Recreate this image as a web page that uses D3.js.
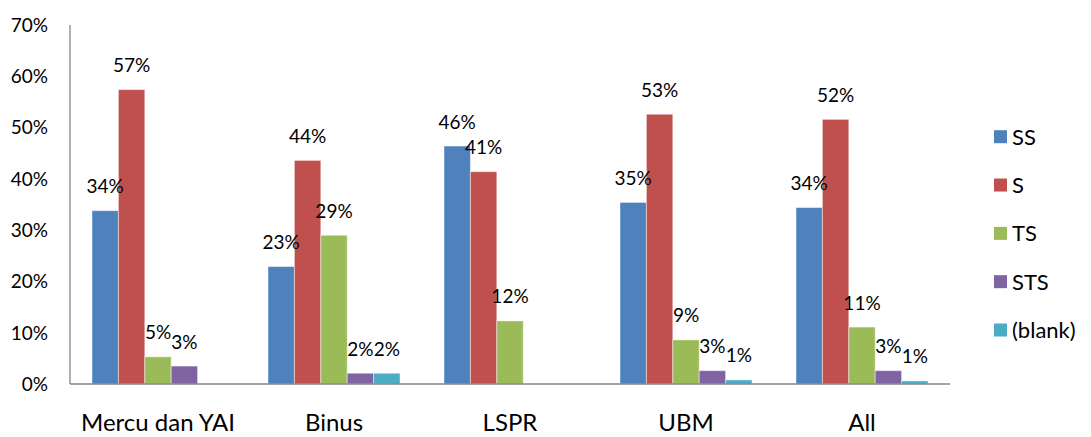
<!DOCTYPE html>
<html>
<head>
<meta charset="utf-8">
<script src="https://cdn.jsdelivr.net/npm/d3@7"></script>
<style>
  html, body { margin: 0; padding: 0; background: #fff; }
  svg { display: block; }
  text { font-family: Lato, "Open Sans", sans-serif; fill: #000; }
</style>
</head>
<body>
<svg id="chart" width="1091" height="437"></svg>
<script>
const categories = ["Mercu dan YAI", "Binus", "LSPR", "UBM", "All"];
const seriesNames = ["SS", "S", "TS", "STS", "(blank)"];
const seriesColors = ["#4F81BD", "#C0504D", "#9BBB59", "#8064A2", "#4BACC6"];
// values in percent, per series, ordered as categories
const valuesSS    = [33.8, 22.9, 46.4, 35.4, 34.4];
const valuesS     = [57.4, 43.6, 41.4, 52.6, 51.6];
const valuesTS    = [5.3, 29.0, 12.3, 8.6, 11.1];
const valuesSTS   = [3.5, 2.1, null, 2.6, 2.6];
const valuesBlank = [null, 2.1, null, 0.8, 0.6];
const labelsSS    = ["34%", "23%", "46%", "35%", "34%"];
const labelsS     = ["57%", "44%", "41%", "53%", "52%"];
const labelsTS    = ["5%", "29%", "12%", "9%", "11%"];
const labelsSTS   = ["3%", "2%", null, "3%", "3%"];
const labelsBlank = [null, "2%", null, "1%", "1%"];
const yTicks = [0, 10, 20, 30, 40, 50, 60, 70];

const seriesValues = [valuesSS, valuesS, valuesTS, valuesSTS, valuesBlank];
const seriesLabels = [labelsSS, labelsS, labelsTS, labelsSTS, labelsBlank];

const svg = d3.select("#chart");
const plot = { left: 70, right: 950, top: 25, bottom: 384 };

const x0 = d3.scaleBand().domain(categories).range([plot.left, plot.right]).paddingInner(0).paddingOuter(0);
const groupPad = 22;
const x1 = d3.scaleBand().domain(seriesNames)
  .range([groupPad, x0.bandwidth() - groupPad]).padding(0);
const y = d3.scaleLinear().domain([0, 70]).range([plot.bottom, plot.top]);

// y-axis tick labels
svg.append("g").selectAll("text").data(yTicks).join("text")
  .attr("x", 48).attr("y", d => y(d)).attr("dy", "0.36em")
  .attr("text-anchor", "end").style("font-size", "19px")
  .text(d => d + "%");

// bars
const rows = [];
seriesNames.forEach((s, si) => {
  categories.forEach((c, ci) => {
    const v = seriesValues[si][ci];
    if (v != null) rows.push({ s, si, c, v, label: seriesLabels[si][ci] });
  });
});

svg.append("g").selectAll("rect").data(rows).join("rect")
  .attr("x", d => x0(d.c) + x1(d.s))
  .attr("width", x1.bandwidth())
  .attr("y", d => y(d.v))
  .attr("height", d => y(0) - y(d.v))
  .attr("fill", d => seriesColors[d.si])
  .attr("stroke", "rgba(255,255,255,0.45)")
  .attr("stroke-width", 1);

// data labels
svg.append("g").selectAll("text").data(rows.filter(d => d.label)).join("text")
  .attr("x", d => x0(d.c) + x1(d.s) + x1.bandwidth() / 2)
  .attr("y", d => y(d.v) - 17.5)
  .attr("text-anchor", "middle").style("font-size", "19px")
  .text(d => d.label);

// axes lines
const axisColor = "#868686";
svg.append("line").attr("x1", plot.left).attr("x2", plot.left)
  .attr("y1", plot.top).attr("y2", plot.bottom)
  .attr("stroke", axisColor).attr("stroke-width", 1.3);
svg.append("line").attr("x1", plot.left).attr("x2", plot.right)
  .attr("y1", plot.bottom).attr("y2", plot.bottom)
  .attr("stroke", axisColor).attr("stroke-width", 1.3);

// category labels
svg.append("g").selectAll("text").data(categories).join("text")
  .attr("x", d => x0(d) + x0.bandwidth() / 2)
  .attr("y", 431)
  .attr("text-anchor", "middle").style("font-size", "24px")
  .text(d => d);

// legend
const legendY = d3.scalePoint().domain(seriesNames).range([136.7, 330]);
const lg = svg.append("g").selectAll("g").data(seriesNames).join("g")
  .attr("transform", d => `translate(994,${legendY(d)})`);
lg.append("rect").attr("x", 0).attr("y", -6.5).attr("width", 13).attr("height", 13)
  .attr("fill", (d, i) => seriesColors[i]);
lg.append("text").attr("x", 18).attr("y", 0).attr("dy", "0.36em")
  .style("font-size", "22px").text(d => d);
</script>
</body>
</html>
